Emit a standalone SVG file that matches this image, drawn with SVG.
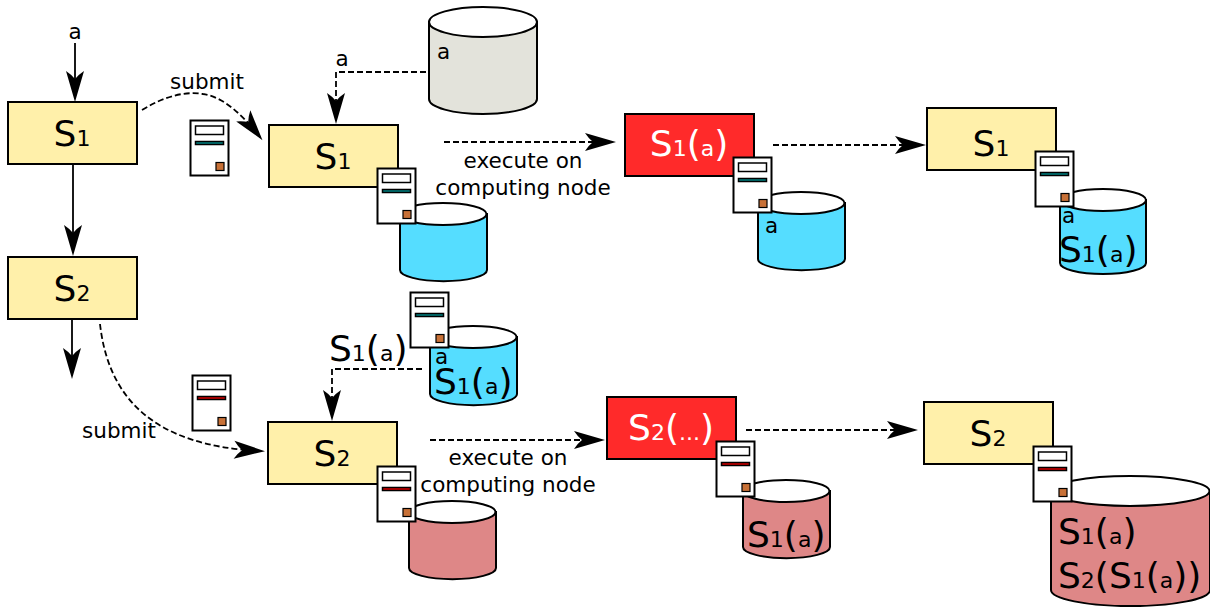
<svg xmlns="http://www.w3.org/2000/svg" width="1210" height="607" viewBox="0 0 1210 607">
<style>
text{font-family:"DejaVu Sans",sans-serif;fill:#000}
.lb{font-size:21.5px}
.big{font-size:36px}
.sub{font-size:22px}
.box{fill:#fff0aa;stroke:#000;stroke-width:2}
.run{fill:#ff2a2a;stroke:#000;stroke-width:2}
.c{fill:none;stroke:#000;stroke-width:1.8;marker-end:url(#ah)}
.d{stroke-dasharray:6 3}
.cb{stroke:#000;stroke-width:2}
.top{fill:#fff;stroke:#000;stroke-width:2}
.w{fill:#fff}
</style>
<defs>
<marker id="ah" markerUnits="userSpaceOnUse" markerWidth="34" markerHeight="24" refX="27" refY="12" orient="auto" overflow="visible">
<path d="M31 12L0 3Q4 9 8 12Q4 15 0 21Z" fill="#000"/>
</marker>
<g id="mt">
<rect x="0.5" y="0.5" width="38" height="55" fill="#fff" stroke="#000" stroke-width="2"/>
<rect x="5.5" y="6" width="28" height="8.5" fill="#fff" stroke="#000" stroke-width="1.5"/>
<rect x="5.5" y="21.5" width="28" height="3" fill="#008080" stroke="#000" stroke-width="1.5"/>
<rect x="26" y="42.5" width="8" height="8" fill="#c87137" stroke="#000" stroke-width="1.2"/>
</g>
<g id="mr">
<rect x="0.5" y="0.5" width="38" height="55" fill="#fff" stroke="#000" stroke-width="2"/>
<rect x="5.5" y="6" width="28" height="8.5" fill="#fff" stroke="#000" stroke-width="1.5"/>
<rect x="5.5" y="21.5" width="28" height="3" fill="#d40000" stroke="#000" stroke-width="1.5"/>
<rect x="26" y="42.5" width="8" height="8" fill="#c87137" stroke="#000" stroke-width="1.2"/>
</g>
</defs>
<g id="connectors">
<path class="c" d="M75 43V98"/>
<path class="c" d="M73 164V252"/>
<path class="c" d="M72 319V375"/>
<path class="c d" d="M142 110C165 96 185 91 203 94C225 97 245 118 260 137"/>
<path class="c d" d="M100 324C108 395 150 446 261 451"/>
<path class="c d" d="M426 72H336V120"/>
<path class="c d" d="M444 142H612"/>
<path class="c d" d="M773 145H922"/>
<path class="c d" d="M422 369H332V417"/>
<path class="c d" d="M430 440H601"/>
<path class="c d" d="M746 430H914"/>
</g>
<g id="label-a"><text class="lb" x="75" y="39" text-anchor="middle">a</text></g>
<g id="label-a2"><text class="lb" x="342" y="66" text-anchor="middle">a</text></g>
<g id="label-submit1"><text class="lb" x="207" y="89" text-anchor="middle">submit</text></g>
<g id="label-submit2"><text class="lb" x="119" y="438" text-anchor="middle">submit</text></g>
<g id="s1a"><rect class="box" x="8" y="102" width="129" height="62"/><text class="big" x="72" y="146" text-anchor="middle">S<tspan class="sub">1</tspan></text></g>
<g id="s2a"><rect class="box" x="8" y="257" width="129" height="62"/><text class="big" x="72" y="301" text-anchor="middle">S<tspan class="sub">2</tspan></text></g>
<g id="m1"><use href="#mt" x="190" y="120"/></g>
<g id="db-grey"><path d="M429 22V99A54 15 0 0 0 537 99V22Z" fill="#e3e3db" class="cb"/><ellipse class="top" cx="483" cy="22" rx="54" ry="15"/><text class="lb" x="437" y="59">a</text></g>
<g id="s1b"><rect class="box" x="269" y="125" width="129" height="62"/><text class="big" x="333" y="169" text-anchor="middle">S<tspan class="sub">1</tspan></text></g>
<g id="db-b1"><path d="M400 214V270A43 11 0 0 0 487 270V214Z" fill="#55ddff" class="cb"/><ellipse class="top" cx="443" cy="214" rx="43.500" ry="11"/></g>
<g id="m2"><use href="#mt" x="377" y="168"/></g>
<g id="label-exec1"><text class="lb" x="523" y="168" text-anchor="middle">execute on</text><text class="lb" x="523" y="195" text-anchor="middle">computing node</text></g>
<g id="s1run"><rect class="run" x="625" y="114" width="129" height="62"/><text class="big w" x="689" y="156" text-anchor="middle">S<tspan class="sub">1</tspan>(<tspan class="sub">a</tspan>)</text></g>
<g id="db-b2"><path d="M758 203V259A43 11 0 0 0 845 259V203Z" fill="#55ddff" class="cb"/><ellipse class="top" cx="801" cy="203" rx="43.500" ry="11"/><text class="lb" x="765" y="233">a</text></g>
<g id="m3"><use href="#mt" x="733" y="157"/></g>
<g id="s1c"><rect class="box" x="927" y="108" width="129" height="62"/><text class="big" x="991" y="156" text-anchor="middle">S<tspan class="sub">1</tspan></text></g>
<g id="db-b3"><path d="M1060 200V263A43 11 0 0 0 1146 263V200Z" fill="#55ddff" class="cb"/><ellipse class="top" cx="1103" cy="200" rx="43" ry="11"/><text class="lb" x="1062" y="223">a</text><text class="big" x="1059" y="262">S<tspan class="sub">1</tspan>(<tspan class="sub">a</tspan>)</text></g>
<g id="m4"><use href="#mt" x="1035" y="151"/></g>
<g id="db-b4"><path d="M430 337V394A43 11 0 0 0 517 394V337Z" fill="#55ddff" class="cb"/><ellipse class="top" cx="473" cy="337" rx="43.500" ry="11"/><text class="lb" x="435" y="364">a</text><text class="big" x="434" y="394">S<tspan class="sub">1</tspan>(<tspan class="sub">a</tspan>)</text></g>
<g id="m5"><use href="#mt" x="410" y="292"/></g>
<g id="label-s1a"><text class="big" x="329" y="361">S<tspan class="sub">1</tspan>(<tspan class="sub">a</tspan>)</text></g>
<g id="m6"><use href="#mr" x="192" y="375"/></g>
<g id="s2b"><rect class="box" x="268" y="422" width="129" height="62"/><text class="big" x="332" y="466" text-anchor="middle">S<tspan class="sub">2</tspan></text></g>
<g id="db-r1"><path d="M409 512V568A43 11 0 0 0 496 568V512Z" fill="#de8787" class="cb"/><ellipse class="top" cx="452" cy="512" rx="43.500" ry="11"/></g>
<g id="m7"><use href="#mr" x="377" y="466"/></g>
<g id="label-exec2"><text class="lb" x="508" y="465" text-anchor="middle">execute on</text><text class="lb" x="508" y="492" text-anchor="middle">computing node</text></g>
<g id="s2run"><rect class="run" x="607" y="397" width="129" height="62"/><text class="big w" x="671" y="440" text-anchor="middle">S<tspan class="sub">2</tspan>(<tspan class="sub">...</tspan>)</text></g>
<g id="db-r2"><path d="M743 491V547A43 11 0 0 0 830 547V491Z" fill="#de8787" class="cb"/><ellipse class="top" cx="786" cy="491" rx="43.500" ry="11"/><text class="big" x="747" y="547">S<tspan class="sub">1</tspan>(<tspan class="sub">a</tspan>)</text></g>
<g id="m8"><use href="#mr" x="716" y="441"/></g>
<g id="s2c"><rect class="box" x="924" y="402" width="129" height="62"/><text class="big" x="988" y="446" text-anchor="middle">S<tspan class="sub">2</tspan></text></g>
<g id="db-r3"><path d="M1051 491V590A79 16 0 0 0 1210 590V491Z" fill="#de8787" class="cb"/><ellipse class="top" cx="1130" cy="491" rx="79.500" ry="15"/><text class="big" x="1058" y="544">S<tspan class="sub">1</tspan>(<tspan class="sub">a</tspan>)</text><text class="big" x="1058" y="588">S<tspan class="sub">2</tspan>(S<tspan class="sub">1</tspan>(<tspan class="sub">a</tspan>))</text></g>
<g id="m9"><use href="#mr" x="1033" y="446"/></g>
</svg>
